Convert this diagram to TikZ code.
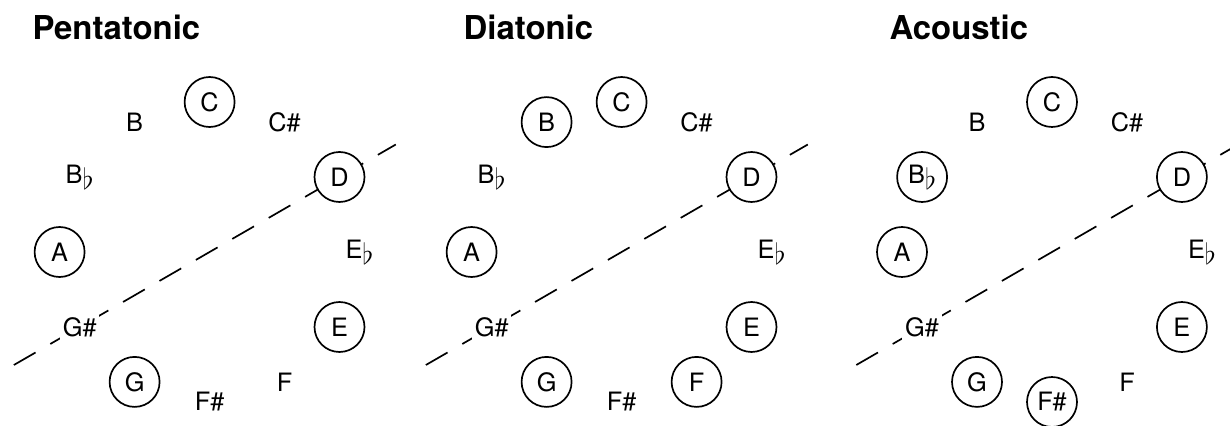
\documentclass[tikz,border=0pt]{standalone}
\usepackage{fontspec}
\usepackage{graphicx}
\setmainfont{TeX Gyre Heros}
\newcommand{\fl}{\raisebox{-0.25em}{\scalebox{1.2}{$\flat$}}}

\begin{document}
\begin{tikzpicture}[
  notelabel/.style={font=\fontsize{18}{20}\selectfont,fill=white,inner sep=2pt},
  innote/.style={notelabel,circle,draw,line width=1.2pt,minimum size=1.25cm,inner sep=0pt},
  outnote/.style={notelabel},
  scaletitle/.style={font=\fontsize{23.4}{28}\selectfont\bfseries,anchor=base},
  splitline/.style={line width=1.2pt,dash pattern=on 17.8pt off 12.1pt}
]

\useasboundingbox (0,0) rectangle (30.75,10.625);

\def\rr{3.75}

%=== Pentatonic ===
\begin{scope}[shift={(5.24,4.325)}]
  \coordinate (pent-lo) at (210:5.65);
  \coordinate (pent-hi) at (30:5.375);
  \draw[splitline] (pent-lo) -- (pent-hi);

  \foreach \nm/\lab/\ang/\st in {C/C/90/innote, Cs/C\#/60/outnote, D/D/30/innote,
      Eb/E\fl/0/outnote, E/E/-30/innote, F/F/-60/outnote, Fs/F\#/-90/outnote,
      G/G/-120/innote, Gs/G\#/-150/outnote, A/A/180/innote, Bb/B\fl/150/outnote,
      B/B/120/outnote}
    \node[\st] (pent-\nm) at (\ang:\rr) {\lab};

  \node[scaletitle] (pent-title) at (-2.33,5.3) {Pentatonic};
\end{scope}

%=== Diatonic ===
\begin{scope}[shift={(15.54,4.325)}]
  \coordinate (dia-lo) at (210:5.65);
  \coordinate (dia-hi) at (30:5.375);
  \draw[splitline] (dia-lo) -- (dia-hi);

  \foreach \nm/\lab/\ang/\st in {C/C/90/innote, Cs/C\#/60/outnote, D/D/30/innote,
      Eb/E\fl/0/outnote, E/E/-30/innote, F/F/-60/innote, Fs/F\#/-90/outnote,
      G/G/-120/innote, Gs/G\#/-150/outnote, A/A/180/innote, Bb/B\fl/150/outnote,
      B/B/120/innote}
    \node[\st] (dia-\nm) at (\ang:\rr) {\lab};

  \node[scaletitle] (dia-title) at (-2.33,5.3) {Diatonic};
\end{scope}

%=== Acoustic ===
\begin{scope}[shift={(26.3,4.325)}]
  \coordinate (ac-lo) at (210:5.65);
  \coordinate (ac-hi) at (30:5.375);
  \draw[splitline] (ac-lo) -- (ac-hi);

  \foreach \nm/\lab/\ang/\st in {C/C/90/innote, Cs/C\#/60/outnote, D/D/30/innote,
      Eb/E\fl/0/outnote, E/E/-30/innote, F/F/-60/outnote, Fs/F\#/-90/innote,
      G/G/-120/innote, Gs/G\#/-150/outnote, A/A/180/innote, Bb/B\fl/150/innote,
      B/B/120/outnote}
    \node[\st] (ac-\nm) at (\ang:\rr) {\lab};

  \node[scaletitle] (ac-title) at (-2.33,5.3) {Acoustic};
\end{scope}

\end{tikzpicture}
\end{document}
